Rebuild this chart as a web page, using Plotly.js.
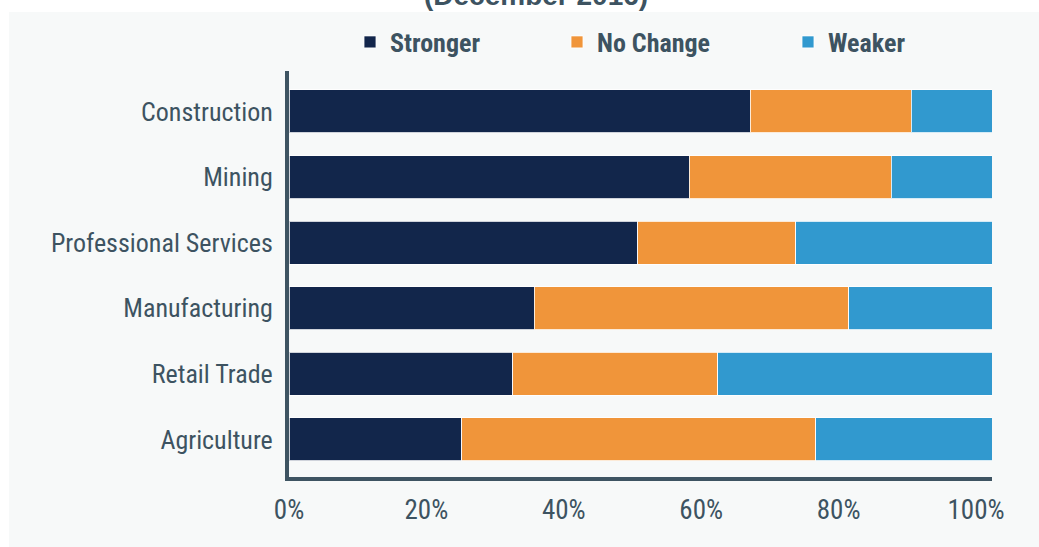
<!DOCTYPE html>
<html>
<head>
<meta charset="utf-8">
<script src="https://cdn.plot.ly/plotly-3.0.1.min.js"></script>
<style>
  html, body { margin: 0; padding: 0; background: #ffffff; }
  #chart { width: 1039px; height: 547px; }
</style>
</head>
<body>
<div id="chart"></div>
<script>
// ---- Data (percent of respondents) ----
const categories = ["Construction", "Mining", "Professional Services", "Manufacturing", "Retail Trade", "Agriculture"];
const stronger = [65.6, 56.9, 49.6, 34.9, 31.8, 24.6];
const noChange = [22.9, 28.8, 22.5, 44.7, 29.2, 50.3];
const weaker   = [11.5, 14.3, 27.9, 20.4, 39.0, 25.1];
const seriesNames = ["Stronger", "No Change", "Weaker"];
const tickVals = [0, 20, 40, 60, 80, 100];
const tickText = ["0%", "20%", "40%", "60%", "80%", "100%"];
const titleText = "(December 2016)";

// ---- Styling ----
const colors = ["#12264b", "#f0953a", "#3199cf"];
const slate = "#3d5361";
const narrow = "'Liberation Sans Narrow', 'Arial Narrow', 'Roboto Condensed', sans-serif";

const W = 1039, H = 547;
const L = 289, R = 47, T = 71, B = 70;
const pw = W - L - R, ph = H - T - B;
const px = x => (x - L) / pw;           // pixel -> paper x
const py = y => (H - B - y) / ph;       // pixel -> paper y

const values = [stronger, noChange, weaker];
const legendIds = ["legend", "legend2", "legend3"];
const traces = values.map((v, i) => ({
  type: "bar",
  orientation: "h",
  name: seriesNames[i],
  y: categories,
  x: v,
  marker: { color: colors[i], line: { color: "rgba(255,255,255,0.8)", width: 1 } },
  legend: legendIds[i],
  hoverinfo: "x+y+name"
}));

// invisible helper trace on the label axis so it is drawn
traces.push({
  type: "scatter", x: [0, 100], y: [categories[0], categories[0]],
  xaxis: "x2", mode: "markers", marker: { opacity: 0 }, showlegend: false, hoverinfo: "skip"
});

const legendBase = {
  orientation: "h",
  xanchor: "left",
  yanchor: "middle",
  y: py(42),
  bgcolor: "rgba(0,0,0,0)",
  borderwidth: 0,
  itemwidth: 30,
  font: { family: narrow, size: 26, color: slate, weight: "bold" }
};

const layout = {
  width: W, height: H,
  margin: { l: L, r: R, t: T, b: B, pad: 0 },
  paper_bgcolor: "#ffffff",
  plot_bgcolor: "rgba(0,0,0,0)",
  barmode: "stack",
  bargap: 0.345,
  showlegend: true,
  legend:  Object.assign({}, legendBase, { x: px(350) }),
  legend2: Object.assign({}, legendBase, { x: px(557) }),
  legend3: Object.assign({}, legendBase, { x: px(788) }),
  xaxis: {
    range: [0, 100],
    showgrid: false, zeroline: false,
    showline: true, linecolor: "#3e5462", linewidth: 4,
    showticklabels: false, ticks: "",
    fixedrange: true
  },
  xaxis2: {
    overlaying: "x",
    side: "bottom",
    range: [0, 100 * pw / 687],
    tickvals: tickVals, ticktext: tickText,
    showgrid: false, zeroline: false, showline: false, ticks: "",
    ticklabelstandoff: 14,
    tickfont: { family: narrow, size: 27, color: slate },
    fixedrange: true
  },
  yaxis: {
    type: "category",
    categoryorder: "array",
    categoryarray: categories,
    range: [5.572, -0.617],
    showgrid: false, zeroline: false,
    showline: true, linecolor: "#3e5462", linewidth: 4,
    ticks: "",
    ticklabelstandoff: 7,
    tickfont: { family: narrow, size: 26, color: slate },
    fixedrange: true
  },
  shapes: [{
    type: "rect", layer: "below",
    xref: "paper", yref: "paper",
    x0: px(9), x1: px(1045), y0: py(12), y1: py(560),
    fillcolor: "#f7f9f9", line: { width: 0 }
  }],
  annotations: [{
    text: titleText,
    xref: "paper", yref: "paper",
    x: px(536), y: py(13),
    xanchor: "center", yanchor: "bottom",
    showarrow: false,
    font: { family: "'Liberation Sans', Arial, sans-serif", size: 28, color: slate, weight: "bold" }
  }]
};

Plotly.newPlot("chart", traces, layout, { displayModeBar: false, staticPlot: true });
</script>
</body>
</html>
